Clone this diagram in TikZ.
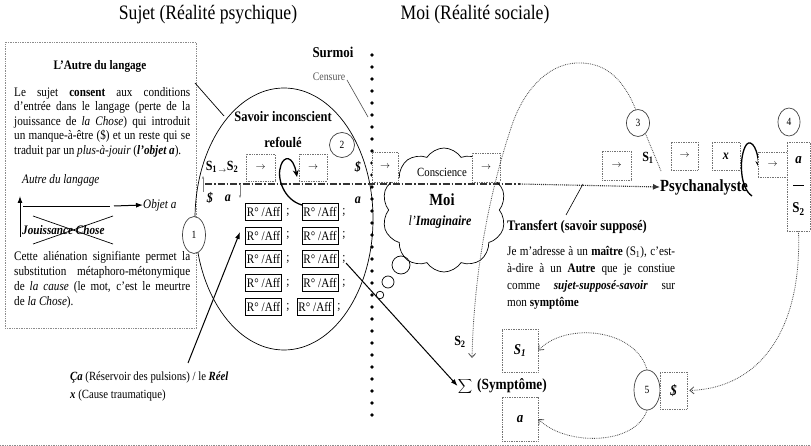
\documentclass[tikz,border=0pt]{standalone}
\usepackage{fontspec}
\setmainfont{Liberation Serif}[FakeStretch=0.86]
\usetikzlibrary{shapes.geometric,shapes.symbols,arrows.meta}
\newcommand\fsz[1]{\fontsize{#1}{#1}\selectfont}
\begin{document}
\begin{tikzpicture}[x=1pt,y=-1pt,
  t/.style={inner sep=0pt},
  dbox/.style={draw=black!55,densely dotted,line width=0.7pt,fill=white,inner sep=0pt},
  rbox/.style={draw,line width=0.6pt,inner sep=1.5pt,minimum height=17pt,font=\fsz{13}},
  num/.style={draw=black!75,line width=0.7pt,ellipse,inner sep=0pt,font=\fsz{11}},
  blk/.style={-{Latex[length=7pt,width=5pt]},line width=1pt},
  dotc/.style={black!70,densely dotted,line width=0.8pt},
  barb/.style={-{Straight Barb[length=4pt,width=7pt]}},
  swirl/.style={line width=1.3pt,-{Stealth[length=7pt,width=6pt]}},
  body/.style={t,anchor=west,font=\fsz{13}},
]
\useasboundingbox (0,0) rectangle (811,446);

% titles
\node[t,font=\fsz{20.5}] (title1) at (208,15) {Sujet (Réalité psychique)};
\node[t,font=\fsz{20.5}] (title2) at (475,15) {Moi (Réalité sociale)};

% left box
\node[draw=black!45,densely dotted,line width=0.7pt,minimum width=191pt,minimum height=286pt,anchor=north west,inner sep=0pt] (lbox) at (5,42) {};
\node[t,font=\fsz{13}\bfseries] (autre) at (100,66) {L’Autre du langage};
\node[body] (p1) at (14,93) {\makebox[176pt][s]{Le sujet \textbf{consent} aux conditions}};
\node[body] (p2) at (14,107.5) {\makebox[176pt][s]{d’entrée dans le langage (perte de la}};
\node[body] (p3) at (14,122) {\makebox[176pt][s]{jouissance de \textit{la Chose}) qui introduit}};
\node[body] (p4) at (14,136.5) {\makebox[176pt][s]{un manque-à-être (\$) et un reste qui se}};
\node[body] (p5) at (14,151) {traduit par un \textit{plus-à-jouir} (\textbf{\textit{l’objet a}}).};

\node[body,font=\fsz{13}\itshape] (adl) at (22,180) {Autre du langage};
\draw[line width=0.7pt] (23,206) -- (110,206);
\node[body,font=\fsz{13}\itshape] (objet) at (143,205) {Objet a};
\coordinate (oa0) at (114,206);
\draw[blk] (oa0) -- (objet.west);
\coordinate (up0) at (20,237);
\coordinate (up1) at (20,196);
\draw[blk] (up0) -- (up1);
\node[body,font=\fsz{13}\bfseries\itshape] (jouis) at (22,230) {Jouissance Chose};
\draw[line width=0.7pt] (33,216) -- (113,244);
\draw[line width=0.7pt] (33,244) -- (113,216);

\node[body] (q1) at (14,257) {\makebox[176pt][s]{Cette aliénation signifiante permet la}};
\node[body] (q2) at (14,272) {\makebox[176pt][s]{substitution métaphoro-métonymique}};
\node[body] (q3) at (14,287) {\makebox[176pt][s]{de \textit{la cause} (le mot, c’est le meurtre}};
\node[body] (q4) at (14,302) {de \textit{la Chose}).};

% big ellipse
\node[draw,ellipse,line width=0.7pt,minimum width=178pt,minimum height=262pt,inner sep=0pt] (ell) at (284,219) {};
\coordinate (lb1) at (195,83);
\coordinate (lb2) at (224,116);
\draw[line width=0.7pt] (lb1) -- (lb2);
\node[t,font=\fsz{14.5}\bfseries] (savoir) at (283,117) {Savoir inconscient};
\node[t,font=\fsz{14.5}\bfseries] (refoule) at (283,142) {refoulé};
\node[num,minimum width=25pt,minimum height=25pt] (c2) at (342,145) {2};
\node[num,minimum width=23pt,minimum height=37pt,fill=white] (c1) at (194,235) {1};

% main line
\coordinate (ml0) at (205,184);
\coordinate (ml1) at (520,184);
\node[t,anchor=west,font=\fsz{17}\bfseries] (psy) at (660,187) {Psychanalyste};
\draw[black!80,line width=1.1pt,dash pattern=on 7pt off 2pt on 1.5pt off 2pt] (ml0) -- (ml1);
\draw[black!80,line width=1.1pt,densely dotted,-{Latex[length=7pt,width=6pt]}] (ml1) -- (psy.west);

\node[t,font=\fsz{14}\bfseries] (s1s2) at (222,167) {S\textsubscript{1\,$\scriptstyle\rightarrow$}S\textsubscript{2}};
\node[t,font=\fsz{14}\bfseries\itshape] (sb1) at (210,198) {\$};
\node[t,font=\fsz{14}\bfseries\itshape] (a1) at (228,198) {a};
\coordinate (ua0) at (203,192);
\coordinate (ua1) at (203,176);
\coordinate (da0) at (240,184);
\coordinate (da1) at (240,198);
\draw[black!50,line width=0.6pt,-{Stealth[length=3pt]}] (ua0) -- (ua1);
\draw[black!50,line width=0.6pt,-{Stealth[length=3pt]}] (da0) -- (da1);

\node[dbox,minimum width=29pt,minimum height=27pt,font=\fsz{10}] (b1) at (260.5,167.5) {$\rightarrow$};
\node[dbox,minimum width=28pt,minimum height=27pt,font=\fsz{10}] (b2) at (313,167.5) {$\rightarrow$};
\draw[swirl] (302,205) .. controls (284,200) and (276,178) .. (281,165) .. controls (284,156) and (293,155) .. (297,177);
\node[t,font=\fsz{14}\bfseries\itshape] (sb2) at (358,167) {\$};
\node[t,font=\fsz{14}\bfseries\itshape] (a2) at (358,200) {a};

% R/Aff grid
\foreach \r/\y in {1/212,2/235.5,3/259,4/283,5/307} {
  \node[rbox] (ra\r) at (263.5,\y) {R° /Aff};
  \node[t,font=\fsz{13}] at (288,\y) {;};
}
\foreach \r/\y in {1/212,2/235.5,3/259,4/283} {
  \node[rbox] (rb\r) at (320,\y) {R° /Aff};
  \node[t,font=\fsz{13}] at (344,\y) {;};
}
\node[rbox] (rb5) at (315,307) {R° /Aff};
\node[t,font=\fsz{13}] at (339,307) {;};

% Ca
\node[body,font=\fsz{12.5}] (ca) at (70,377) {\textbf{\textit{Ça}} (Réservoir des pulsions) / le \textbf{\textit{Réel}}};
\node[body,font=\fsz{12.5}] (xc) at (70,395) {\textbf{\textit{x}} (Cause traumatique)};
\coordinate (catail) at (188,363);
\coordinate (catip) at (240,232);
\draw[blk] (catail) -- (catip);

% Surmoi / censure / dots
\node[t,font=\fsz{15}\bfseries] (surmoi) at (333,52) {Surmoi};
\node[t,font=\fsz{11.5},text=black!65] (censure) at (329,77) {Censure};
\coordinate (cen0) at (347,80);
\coordinate (cen1) at (368,117);
\draw[black!70,line width=0.6pt] (cen0) -- (cen1);
\foreach \y in {55,67,...,415} \fill (372,\y) circle (1.9pt);

% cloud
\node[cloud,draw,line width=0.7pt,cloud puffs=10,cloud puff arc=115,aspect=1,minimum width=124pt,minimum height=124pt,inner sep=0pt] (cloud) at (444,210) {};
\draw[line width=0.7pt] (401,265) circle (9pt);
\draw[line width=0.7pt] (388,282) circle (6pt);
\draw[line width=0.7pt] (380,295) circle (3.8pt);
\node[dbox,minimum width=26pt,minimum height=30pt,font=\fsz{10}] (b3) at (385,167) {$\rightarrow$};
\node[dbox,minimum width=28pt,minimum height=29pt,font=\fsz{10}] (b4) at (486,167.5) {$\rightarrow$};
\node[t,font=\fsz{12.5}] (consc) at (442,172) {Conscience};
\node[t,font=\fsz{17}\bfseries] (moi) at (442,200) {Moi};
\node[t,font=\fsz{14}] (imag) at (440,222) {\textit{l’}\textbf{\textit{Imaginaire}}};

% right part
\node[num,minimum width=23pt,minimum height=27pt] (c3) at (638,123) {3};
\node[dbox,minimum width=29pt,minimum height=29pt,font=\fsz{10}] (b5) at (616.5,165.5) {$\rightarrow$};
\node[t,font=\fsz{14}\bfseries] (s1r) at (648,158) {S\textsubscript{1}};
\node[dbox,minimum width=27pt,minimum height=28pt,font=\fsz{10}] (b6) at (684.5,156) {$\rightarrow$};
\node[dbox,minimum width=28pt,minimum height=28pt,font=\fsz{14}\bfseries\itshape] (bx) at (726,156) {x};
\draw[swirl] (752,196) .. controls (740,188) and (739,160) .. (745,147) .. controls (749,138) and (757,144) .. (759,168);
\node[dbox,minimum width=29pt,minimum height=25pt,font=\fsz{10}] (b7) at (772.5,164.5) {$\rightarrow$};
\node[dbox,minimum width=23pt,minimum height=89pt] (asb) at (798.5,186.5) {};
\node[t,font=\fsz{15}\bfseries\itshape] (aa) at (798.5,160) {a};
\draw[line width=0.7pt] (793,185) -- (804,185);
\node[t,font=\fsz{15}\bfseries] (s2a) at (798.5,209) {S\textsubscript{2}};
\node[num,minimum width=22pt,minimum height=28pt] (c4) at (789,122) {4};

\coordinate (c3d) at (661,171);
\draw[dotc] (c3.-55) -- (c3d);

% dotted arc from 3 to S2
\node[t,font=\fsz{14}\bfseries] (s2lab) at (460,342) {S\textsubscript{2}};
\coordinate (arcend) at (472,358);
\draw[dotc,barb] (c3.100) .. controls (622,75) and (602,62) .. (577,63) .. controls (545,64) and (522,95) .. (512,125) .. controls (490,190) and (474,270) .. (arcend);

% Transfert
\node[t,anchor=west,font=\fsz{14.5}\bfseries] (transf) at (507,227) {Transfert (savoir supposé)};
\coordinate (tr0) at (583,184);
\coordinate (tr1) at (566,215);
\draw[line width=0.6pt] (tr0) -- (tr1);
\node[body] (t1) at (507,252) {\makebox[168pt][s]{Je m’adresse à un \textbf{maître} (S\textsubscript{1}), c’est-}};
\node[body] (t2) at (507,269) {\makebox[168pt][s]{à-dire à un \textbf{Autre} que je constiue}};
\node[body] (t3) at (507,286) {\makebox[168pt][s]{comme \textbf{\textit{sujet-supposé-savoir}} sur}};
\node[body] (t4) at (507,303) {mon \textbf{symptôme}};

% symptome
\node[t,font=\fsz{15}] (sig) at (465,386) {$\displaystyle\sum$};
\node[t,anchor=west,font=\fsz{15.5}\bfseries] (symp) at (477,386) {(Symptôme)};
\coordinate (semi3) at (346,263);
\draw[blk] (semi3) -- (sig.west);

\node[dbox,minimum width=36pt,minimum height=43pt,font=\fsz{15}\bfseries\itshape] (bs1) at (520,350.5) {S\textsubscript{1}};
\node[dbox,minimum width=36pt,minimum height=44pt,font=\fsz{15}\bfseries\itshape] (ba) at (520,419) {a};
\node[num,minimum width=26pt,minimum height=40pt] (c5) at (647,390) {5};
\node[dbox,minimum width=27pt,minimum height=37pt,font=\fsz{15}\bfseries\itshape] (bd) at (673.5,390.5) {\$};
\draw[dotc,barb] (c5.north) .. controls (635,328) and (565,322) .. (bs1.east);
\draw[dotc,barb] (c5.south) .. controls (635,446) and (565,446) .. (ba.east);
\draw[dotc,barb] (asb.south) .. controls (802,330) and (760,388) .. ([xshift=2pt]bd.east);

% bottom line
\coordinate (bl0) at (0,445);
\coordinate (bl1) at (811,445);
\draw[black!45,densely dotted,line width=0.7pt] (bl0) -- (bl1);
\end{tikzpicture}
\end{document}
